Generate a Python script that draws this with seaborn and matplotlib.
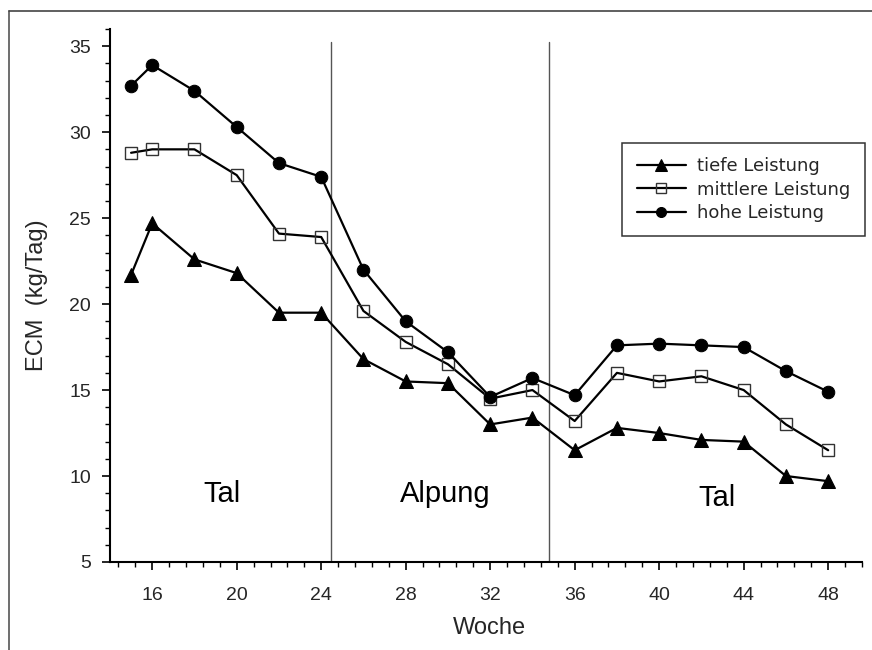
import numpy as np
import pandas as pd
import matplotlib
matplotlib.use("Agg")
import matplotlib.pyplot as plt
from matplotlib.lines import Line2D
from matplotlib.ticker import FixedLocator, MultipleLocator
import seaborn as sns

weeks = [15, 16, 18, 20, 22, 24, 26, 28, 30, 32, 34, 36, 38, 40, 42, 44, 46, 48]
tiefe = [21.7, 24.7, 22.6, 21.8, 19.5, 19.5, 16.8, 15.5, 15.4, 13.0, 13.4, 11.5, 12.8, 12.5, 12.1, 12.0, 10.0, 9.7]
mittlere = [28.8, 29.0, 29.0, 27.5, 24.1, 23.9, 19.6, 17.8, 16.5, 14.5, 15.0, 13.2, 16.0, 15.5, 15.8, 15.0, 13.0, 11.5]
hohe = [32.7, 33.9, 32.4, 30.3, 28.2, 27.4, 22.0, 19.0, 17.2, 14.6, 15.7, 14.7, 17.6, 17.7, 17.6, 17.5, 16.1, 14.9]
series_names = ["tiefe Leistung", "mittlere Leistung", "hohe Leistung"]
phase_labels = ["Tal", "Alpung", "Tal"]
phase_x = [19.3, 29.85, 42.75]
phase_y = [8.47, 8.47, 8.25]
phase_bounds = [24.45, 34.78]
xticks = [16, 20, 24, 28, 32, 36, 40, 44, 48]
yticks = [5, 10, 15, 20, 25, 30, 35]

sns.set_style("ticks")
plt.rcParams["font.family"] = ["Liberation Sans", "DejaVu Sans"]

df = pd.DataFrame({
    "Woche": weeks * 3,
    "ECM": tiefe + mittlere + hohe,
    "Gruppe": [series_names[0]] * len(weeks) + [series_names[1]] * len(weeks) + [series_names[2]] * len(weeks),
})

fig = plt.figure(figsize=(8.72, 6.5), dpi=100)
ax = fig.add_axes([0.1261, 0.1354, 0.8624, 0.82])

styles = {
    series_names[0]: dict(marker="^", markersize=10, markerfacecolor="black", markeredgecolor="black"),
    series_names[1]: dict(marker="s", markersize=8.5, markerfacecolor="none", markeredgecolor="#333333", markeredgewidth=1.0),
    series_names[2]: dict(marker="o", markersize=9, markerfacecolor="black", markeredgecolor="black"),
}
for name in series_names:
    sub = df[df["Gruppe"] == name]
    sns.lineplot(data=sub, x="Woche", y="ECM", ax=ax, color="black", linewidth=1.6,
                 label=name, **styles[name])

for xb in phase_bounds:
    ax.plot([xb, xb], [5, 35.25], color="#555555", linewidth=1.0, zorder=1)

for lab, xp, yp in zip(phase_labels, phase_x, phase_y):
    ax.text(xp, yp, lab, fontsize=21, ha="center", va="baseline", color="black")

ax.set_xlim(14.0, 49.6)
ax.set_ylim(5, 36)
ax.xaxis.set_major_locator(FixedLocator(xticks))
ax.xaxis.set_minor_locator(FixedLocator(list(np.arange(14.4, 49.7, 0.8))))
ax.yaxis.set_major_locator(FixedLocator(yticks))
ax.yaxis.set_minor_locator(MultipleLocator(1))
ax.tick_params(which="major", length=6, width=1.2, labelsize=14, color="black")
ax.tick_params(axis="x", which="major", pad=12)
ax.tick_params(axis="y", which="major", pad=7.5)
ax.tick_params(which="minor", length=3.6, width=1.0, color="black")
for s in ["top", "right"]:
    ax.spines[s].set_visible(False)
for s in ["left", "bottom"]:
    ax.spines[s].set_linewidth(1.5)
    ax.spines[s].set_color("black")

ax.set_xlabel("Woche", fontsize=17)
ax.set_ylabel("ECM  (kg/Tag)", fontsize=17)
ax.xaxis.set_label_coords(0.505, -0.1024)
ax.yaxis.set_label_coords(-0.082, 0.5)

leg = ax.legend(loc="upper left", bbox_to_anchor=((622.3 - 110) / 752, (562 - 142.7) / 533), borderaxespad=0,
                fancybox=False, frameon=True, prop={"family": "DejaVu Sans", "size": 13},
                handlelength=2.73, labelspacing=0.3, borderpad=0.8, handletextpad=0.63,
                markerscale=0.8)
leg.get_frame().set_edgecolor("black")
leg.get_frame().set_linewidth(1.1)

fig.add_artist(Line2D([9 / 872, 9 / 872], [0, 1 - 11 / 650], transform=fig.transFigure, color="#555555", linewidth=1.2))
fig.add_artist(Line2D([9 / 872, 1], [1 - 11 / 650, 1 - 11 / 650], transform=fig.transFigure, color="#444444", linewidth=1.2))

fig.savefig("out.png", dpi=100)
